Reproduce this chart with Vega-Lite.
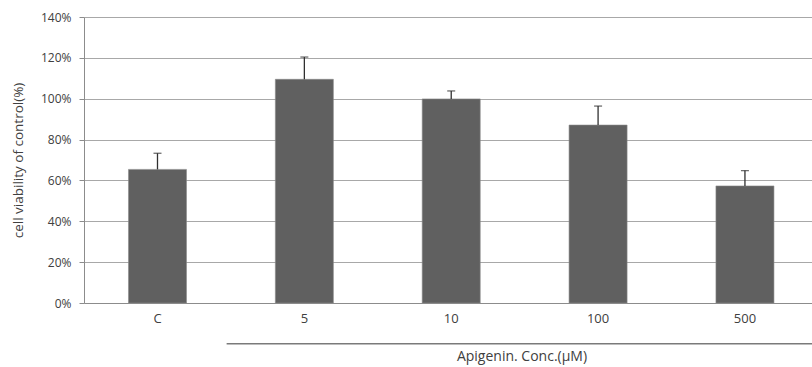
{
  "$schema": "https://vega.github.io/schema/vega-lite/v6.json",
  "width": 728,
  "height": 286,
  "autosize": {"type": "none"},
  "padding": {"left": 84, "top": 17, "right": 0, "bottom": 64},
  "background": "white",
  "config": {
    "view": {"stroke": null},
    "font": "Open Sans",
    "axis": {"labelColor": "#404040", "titleColor": "#404040", "labelFont": "Open Sans", "titleFont": "Open Sans", "titleFontWeight": "normal"}
  },
  "datasets": {
    "main": [
      {"conc": "C", "viability": 65.4, "upper": 73.3},
      {"conc": "5", "viability": 109.5, "upper": 120.4},
      {"conc": "10", "viability": 99.9, "upper": 103.8},
      {"conc": "100", "viability": 87.1, "upper": 96.4},
      {"conc": "500", "viability": 57.3, "upper": 64.8}
    ],
    "group": [
      {"from": "5", "to": "500", "at": "10", "label": "Apigenin. Conc.(μM)", "lineLevel": -20, "textLevel": -26.5}
    ]
  },
  "layer": [
    {
      "data": {"name": "main"},
      "mark": {"type": "bar", "color": "#606060", "stroke": "#8a8a8a", "strokeWidth": 0.6},
      "encoding": {
        "x": {
          "field": "conc", "type": "nominal", "sort": ["C", "5", "10", "100", "500"],
          "scale": {"domain": ["C", "5", "10", "100", "500"], "paddingInner": 0.605, "paddingOuter": 0.281, "align": 0.539},
          "axis": {"title": null, "labelAngle": 0, "ticks": false, "labelPadding": 9, "labelFontSize": 13, "domainColor": "#8c8c8c", "domainWidth": 1.2}
        },
        "y": {
          "field": "viability", "type": "quantitative",
          "scale": {"domain": [0, 140], "nice": false},
          "axis": {
            "title": "cell viability of control(%)", "titleFontSize": 13.5, "titlePadding": 15,
            "values": [0, 20, 40, 60, 80, 100, 120, 140],
            "labelExpr": "datum.value + '%'", "labelFontSize": 12, "labelPadding": 8,
            "tickSize": 5, "tickColor": "#8c8c8c", "domainColor": "#8c8c8c",
            "gridColor": "#a8a8a8", "gridWidth": 1.2
          }
        }
      }
    },
    {
      "data": {"name": "main"},
      "mark": {"type": "rule", "color": "#303030", "strokeWidth": 1.3},
      "encoding": {
        "x": {"field": "conc", "type": "nominal", "sort": ["C", "5", "10", "100", "500"]},
        "y": {"field": "viability", "type": "quantitative"},
        "y2": {"field": "upper"}
      }
    },
    {
      "data": {"name": "main"},
      "mark": {"type": "tick", "color": "#303030", "size": 8, "thickness": 1.3},
      "encoding": {
        "x": {"field": "conc", "type": "nominal", "sort": ["C", "5", "10", "100", "500"]},
        "y": {"field": "upper", "type": "quantitative"}
      }
    },
    {
      "data": {"name": "group"},
      "mark": {"type": "rule", "color": "#7a7a7a", "strokeWidth": 1.5},
      "encoding": {
        "x": {"field": "from", "type": "nominal", "sort": ["C", "5", "10", "100", "500"], "bandPosition": -0.84},
        "x2": {"field": "to", "bandPosition": 1.8},
        "y": {"field": "lineLevel", "type": "quantitative"}
      }
    },
    {
      "data": {"name": "group"},
      "mark": {"type": "text", "color": "#404040", "fontSize": 14, "baseline": "middle", "align": "center"},
      "encoding": {
        "x": {"field": "at", "type": "nominal", "sort": ["C", "5", "10", "100", "500"], "bandPosition": 1.72},
        "y": {"field": "textLevel", "type": "quantitative"},
        "text": {"field": "label"}
      }
    }
  ]
}
